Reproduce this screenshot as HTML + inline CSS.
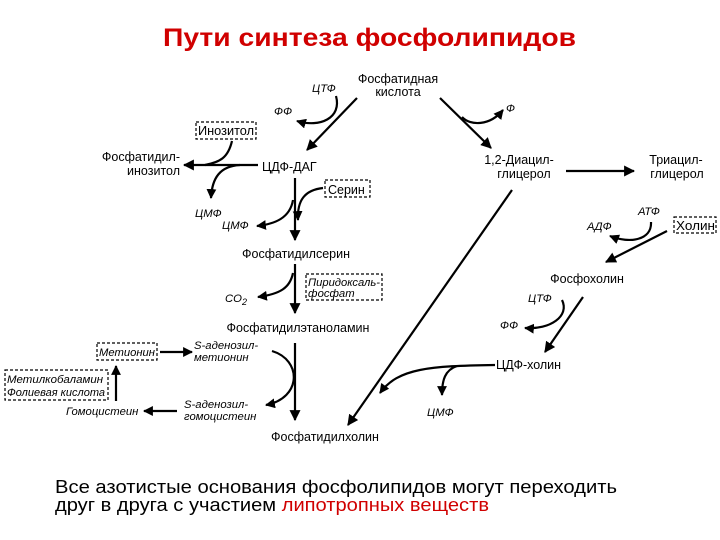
<!DOCTYPE html>
<html><head><meta charset="utf-8"><style>
html,body{margin:0;padding:0;background:#fff;width:720px;height:540px;overflow:hidden}
svg{display:block}
text{font-family:"Liberation Sans",sans-serif;fill:#000}
.t{font-size:12.5px}
.i{font-size:11.3px;font-style:italic}
</style></head><body>
<svg width="720" height="540" viewBox="0 0 720 540" xmlns="http://www.w3.org/2000/svg">
<defs>
<marker id="a" viewBox="0 0 10 10" refX="9" refY="5" markerWidth="5" markerHeight="5" orient="auto" markerUnits="strokeWidth"><path d="M0,0 L10,5 L0,10 z" fill="#000"/></marker>
<marker id="b" viewBox="0 0 10 10" refX="9" refY="5" markerWidth="4.5" markerHeight="4.5" orient="auto" markerUnits="strokeWidth"><path d="M0,0 L10,5 L0,10 z" fill="#000"/></marker>
</defs>
<text x="163" y="46" textLength="413" lengthAdjust="spacingAndGlyphs" style="font-size:25px;font-weight:bold;fill:#d00000">Пути синтеза фосфолипидов</text>

<g fill="none" stroke="#000" stroke-width="2.2">
<path d="M357,98 L307,150" marker-end="url(#a)"/>
<path d="M336,96 C342,118 320,128 297,121" marker-end="url(#b)"/>
<path d="M258,165 L184,165" marker-end="url(#a)"/>
<path d="M232,141 C228,158 220,162 205,165"/>
<path d="M240,165 C220,166 212,178 211,198" marker-end="url(#b)"/>
<path d="M295,178 L295,240" marker-end="url(#a)"/>
<path d="M323,188 C305,190 297,200 298,220" marker-end="url(#b)"/>
<path d="M293,200 C290,218 275,224 257,226" marker-end="url(#b)"/>
<path d="M295,264 L295,313" marker-end="url(#a)"/>
<path d="M293,273 C290,288 280,294 258,297" marker-end="url(#b)"/>
<path d="M295,343 L295,420" marker-end="url(#a)"/>
<path d="M272,351 C302,360 302,398 266,405" marker-end="url(#b)"/>
<path d="M160,352 L192,352" marker-end="url(#b)"/>
<path d="M116,401 L116,366" marker-end="url(#b)"/>
<path d="M177,411 L144,411" marker-end="url(#b)"/>
<path d="M440,98 L491,148" marker-end="url(#a)"/>
<path d="M462,117 C470,126 490,126 503,110" marker-end="url(#b)"/>
<path d="M566,171 L634,171" marker-end="url(#a)"/>
<path d="M512,190 L348,425" marker-end="url(#a)"/>
<path d="M495,365 C430,366 398,368 380,393" marker-end="url(#b)"/>
<path d="M457,366 C445,370 442,380 442,395" marker-end="url(#b)"/>
<path d="M667,231 L606,262" marker-end="url(#a)"/>
<path d="M651,222 C652,240 630,244 610,236" marker-end="url(#b)"/>
<path d="M583,297 L545,352" marker-end="url(#a)"/>
<path d="M562,300 C570,316 550,330 525,328" marker-end="url(#b)"/>
</g>

<g fill="none" stroke="#000" stroke-width="1.2" stroke-dasharray="3,2">
<rect x="196" y="122" width="60" height="17"/>
<rect x="325" y="180" width="45" height="17"/>
<rect x="306" y="274" width="76" height="26"/>
<rect x="97" y="343" width="60" height="17"/>
<rect x="5" y="370" width="103" height="30"/>
<rect x="674" y="217" width="42" height="16"/>
</g>

<text class="t" x="398" y="83" text-anchor="middle">Фосфатидная</text>
<text class="t" x="398" y="96" text-anchor="middle">кислота</text>
<text class="i" x="312" y="92">ЦТФ</text>
<text class="i" x="274" y="115">ФФ</text>
<text class="t" x="198" y="135" textLength="56" lengthAdjust="spacingAndGlyphs">Инозитол</text>
<text class="t" x="180" y="161" text-anchor="end">Фосфатидил-</text>
<text class="t" x="180" y="175" text-anchor="end">инозитол</text>
<text class="t" x="262" y="171">ЦДФ-ДАГ</text>
<text class="t" x="328" y="194">Серин</text>
<text class="i" x="195" y="217">ЦМФ</text>
<text class="i" x="222" y="229">ЦМФ</text>
<text class="t" x="296" y="258" text-anchor="middle">Фосфатидилсерин</text>
<text class="i" x="225" y="302">CO<tspan dy="3" style="font-size:9px">2</tspan></text>
<text class="i" x="308" y="286" textLength="72" lengthAdjust="spacingAndGlyphs">Пиридоксаль-</text>
<text class="i" x="308" y="297">фосфат</text>
<text class="t" x="298" y="332" text-anchor="middle">Фосфатидилэтаноламин</text>
<text class="i" x="99" y="356" textLength="56" lengthAdjust="spacingAndGlyphs">Метионин</text>
<text class="i" x="194" y="349">S-аденозил-</text>
<text class="i" x="194" y="361">метионин</text>
<text class="i" x="7" y="383" textLength="96" lengthAdjust="spacingAndGlyphs">Метилкобаламин</text>
<text class="i" x="7" y="396" textLength="98" lengthAdjust="spacingAndGlyphs">Фолиевая кислота</text>
<text class="i" x="66" y="415">Гомоцистеин</text>
<text class="i" x="184" y="408">S-аденозил-</text>
<text class="i" x="184" y="420">гомоцистеин</text>
<text class="t" x="325" y="441" text-anchor="middle">Фосфатидилхолин</text>

<text class="i" x="506" y="112">Ф</text>
<text class="t" x="519" y="164" text-anchor="middle">1,2-Диацил-</text>
<text class="t" x="524" y="178" text-anchor="middle">глицерол</text>
<text class="t" x="676" y="164" text-anchor="middle">Триацил-</text>
<text class="t" x="677" y="178" text-anchor="middle">глицерол</text>
<text class="i" x="638" y="215">АТФ</text>
<text class="i" x="587" y="230">АДФ</text>
<text class="t" x="676" y="230" textLength="39" lengthAdjust="spacingAndGlyphs">Холин</text>
<text class="t" x="587" y="283" text-anchor="middle">Фосфохолин</text>
<text class="i" x="528" y="302">ЦТФ</text>
<text class="i" x="500" y="329">ФФ</text>
<text class="t" x="496" y="369">ЦДФ-холин</text>
<text class="i" x="427" y="416">ЦМФ</text>

<text x="55" y="493" textLength="562" lengthAdjust="spacingAndGlyphs" style="font-size:18px">Все азотистые основания фосфолипидов могут переходить</text>
<text x="55" y="511" style="font-size:18px" textLength="434" lengthAdjust="spacingAndGlyphs">друг в друга с участием <tspan style="fill:#d00000">липотропных веществ</tspan></text>
</svg>
</body></html>
